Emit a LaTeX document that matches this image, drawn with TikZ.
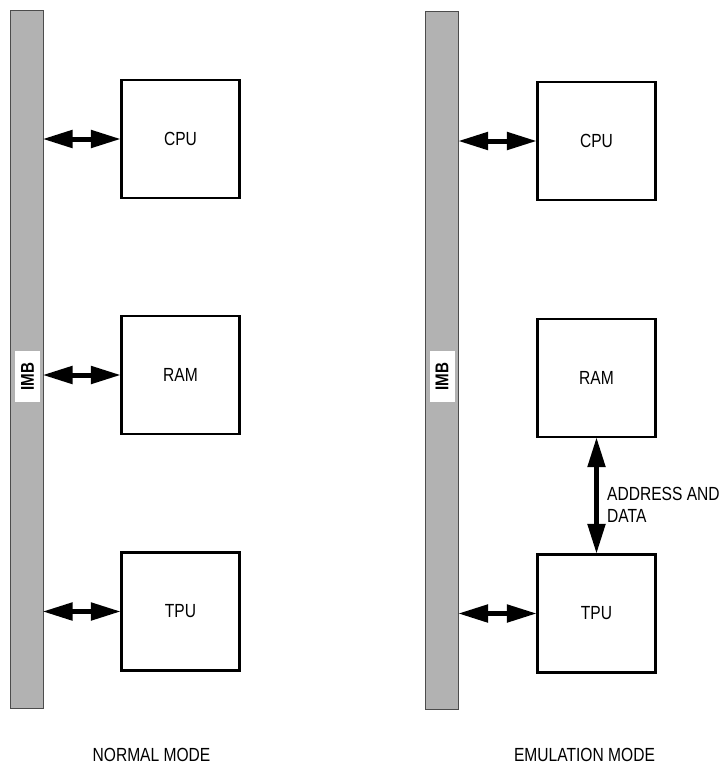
\documentclass[tikz,border=0pt]{standalone}
\usepackage{fontspec}
\setmainfont{Liberation Sans}[FakeStretch=0.82]
\usetikzlibrary{arrows.meta}
\begin{document}
\begin{tikzpicture}[x=1pt,y=-1pt,
  unitbox/.style={draw=black,line width=2.2pt,fill=white,minimum width=118pt,minimum height=118pt,inner sep=0pt,font=\fontsize{19}{22}\selectfont},
  busbar/.style={draw=black!70,line width=1pt,fill=black!30,inner sep=0pt,minimum width=33pt,minimum height=698pt},
  buslabel/.style={fill=white,inner sep=0pt,rotate=90,minimum width=51pt,minimum height=25pt,font=\bfseries\fontsize{18.5}{20}\selectfont},
  busarrow/.style={line width=5pt,shorten <=-1pt,shorten >=-0.5pt,{Triangle[length=30pt,width=17pt]}-{Triangle[length=30pt,width=17pt]}},
  lbl/.style={font=\fontsize{19}{22}\selectfont,inner sep=0pt}]
\useasboundingbox (0,0) rectangle (723,766);
% left: normal mode
\node[busbar] (barL) at (26.5,359) {};
\node[buslabel] (imbL) at (27.5,376.5) {IMB};
\node[unitbox] (cpuL) at (180.5,139) {CPU};
\node[unitbox] (ramL) at (180.5,375) {RAM};
\node[unitbox] (tpuL) at (180.5,611.5) {TPU};
\draw[busarrow] (barL.east |- cpuL.west) -- (cpuL.west);
\draw[busarrow] (barL.east |- ramL.west) -- (ramL.west);
\draw[busarrow] (barL.east |- tpuL.west) -- (tpuL.west);
\node[lbl] (nm) at (151.5,755) {NORMAL MODE};
% right: emulation mode
\node[busbar] (barR) at (442,360) {};
\node[buslabel] (imbR) at (442,376.5) {IMB};
\node[unitbox] (cpuR) at (596.5,141) {CPU};
\node[unitbox] (ramR) at (596.5,378) {RAM};
\node[unitbox] (tpuR) at (596.5,613.5) {TPU};
\draw[busarrow] (barR.east |- cpuR.west) -- (cpuR.west);
\draw[busarrow] (barR.east |- tpuR.west) -- (tpuR.west);
\draw[busarrow] (ramR.south) -- (tpuR.north);
\node[lbl,anchor=west,align=left] (ad) at (607,505) {ADDRESS AND\\DATA};
\node[lbl] (em) at (584.5,755) {EMULATION MODE};
\end{tikzpicture}
\end{document}
